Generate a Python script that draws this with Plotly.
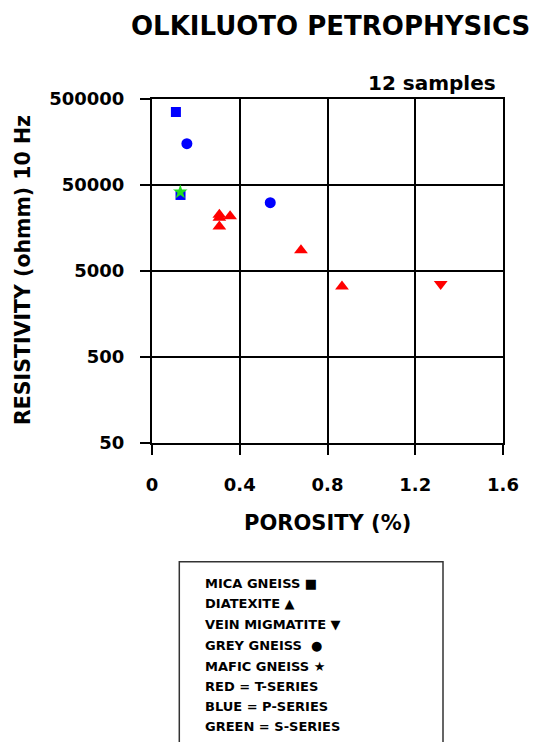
import plotly.graph_objects as go

# ---- data (porosity %, resistivity ohmm @ 10 Hz) ----
mica_p_x = [0.109, 0.130]
mica_p_y = [353000, 38300]
grey_p_x = [0.159, 0.539]
grey_p_y = [151000, 31100]
mafic_s_x = [0.129]
mafic_s_y = [41500]
diatex_t_x = [0.307, 0.307, 0.307, 0.356, 0.679, 0.866]
diatex_t_y = [22600, 20800, 16500, 21600, 8700, 3310]
vein_t_x = [1.316]
vein_t_y = [3530]

x_ticks = [0, 0.4, 0.8, 1.2, 1.6]
x_tick_text = ["0", "0.4", "0.8", "1.2", "1.6"]
y_ticks = [50, 500, 5000, 50000, 500000]
y_tick_text = ["50", "500", "5000", "50000", "500000"]

legend_lines = [
    "MICA GNEISS \u25A0",
    "DIATEXITE \u25B2",
    "VEIN MIGMATITE \u25BC",
    "GREY GNEISS  \u25CF",
    "MAFIC GNEISS \u2605",
    "RED = T-SERIES",
    "BLUE = P-SERIES",
    "GREEN = S-SERIES",
]

FONT = "DejaVu Sans"
W, H = 539, 742
L, R, T, B = 152, 36, 99, 299
PW, PH = W - L - R, H - T - B


def px(xp):
    return (xp - L) / PW


def py(yp):
    return (H - B - yp) / PH


fig = go.Figure()
fig.add_trace(go.Scatter(x=diatex_t_x, y=diatex_t_y, mode="markers",
                         marker=dict(symbol="triangle-up", size=12, color="#FF0000")))
fig.add_trace(go.Scatter(x=vein_t_x, y=vein_t_y, mode="markers",
                         marker=dict(symbol="triangle-down", size=12, color="#FF0000")))
fig.add_trace(go.Scatter(x=mica_p_x, y=mica_p_y, mode="markers",
                         marker=dict(symbol="square", size=10, color="#0000FF")))
fig.add_trace(go.Scatter(x=grey_p_x, y=grey_p_y, mode="markers",
                         marker=dict(symbol="circle", size=11, color="#0000FF")))
fig.add_trace(go.Scatter(x=mafic_s_x, y=mafic_s_y, mode="markers",
                         marker=dict(symbol="star", size=11, color="#22DD22")))

axis_common = dict(showline=True, mirror=True, linecolor="black", linewidth=2,
                   showgrid=True, gridcolor="black", gridwidth=2, zeroline=False,
                   ticks="outside", ticklen=10, tickwidth=2, tickcolor="black",
                   tickfont=dict(family=FONT, size=18, color="black", weight="bold"))

fig.update_xaxes(range=[0, 1.6], tickvals=x_ticks, ticktext=x_tick_text,
                 ticklabelstandoff=14, **axis_common)
fig.update_yaxes(type="log", range=[1.69897, 5.69897], tickvals=y_ticks,
                 ticktext=y_tick_text, ticklabelstandoff=12, **axis_common)

ann = []
ann.append(dict(text="OLKILUOTO PETROPHYSICS", x=px(330), y=py(26), xref="paper", yref="paper",
                xanchor="center", yanchor="middle", showarrow=False,
                font=dict(family=FONT, size=26, color="black", weight="bold")))
ann.append(dict(text="12 samples", x=px(498), y=py(83), xref="paper", yref="paper",
                xanchor="right", yanchor="middle", showarrow=False,
                font=dict(family=FONT, size=20, color="black", weight="bold")))
ann.append(dict(text="POROSITY (%)", x=px(327.5), y=py(523), xref="paper", yref="paper",
                xanchor="center", yanchor="middle", showarrow=False,
                font=dict(family=FONT, size=21, color="black", weight="bold")))
ann.append(dict(text="RESISTIVITY (ohmm) 10 Hz", x=px(23), y=py(270), xref="paper", yref="paper",
                xanchor="center", yanchor="middle", showarrow=False, textangle=-90,
                font=dict(family=FONT, size=20.5, color="black", weight="bold")))

legend_y = [583.3, 603.3, 624, 645, 666, 686.7, 706.7, 726.7]
for txt, yy in zip(legend_lines, legend_y):
    ann.append(dict(text=txt, x=px(203), y=py(yy), xref="paper", yref="paper",
                    xanchor="left", yanchor="middle", showarrow=False,
                    font=dict(family=FONT, size=13, color="black", weight="bold")))

fig.update_layout(
    width=W, height=H, margin=dict(l=L, r=R, t=T, b=B),
    paper_bgcolor="white", plot_bgcolor="white", showlegend=False,
    annotations=ann,
    shapes=[dict(type="rect", xref="paper", yref="paper",
                 x0=px(179.3), x1=px(443), y0=py(746), y1=py(561.7),
                 line=dict(color="#333333", width=1.5), fillcolor="rgba(0,0,0,0)")],
)

fig.write_html("out.html")
